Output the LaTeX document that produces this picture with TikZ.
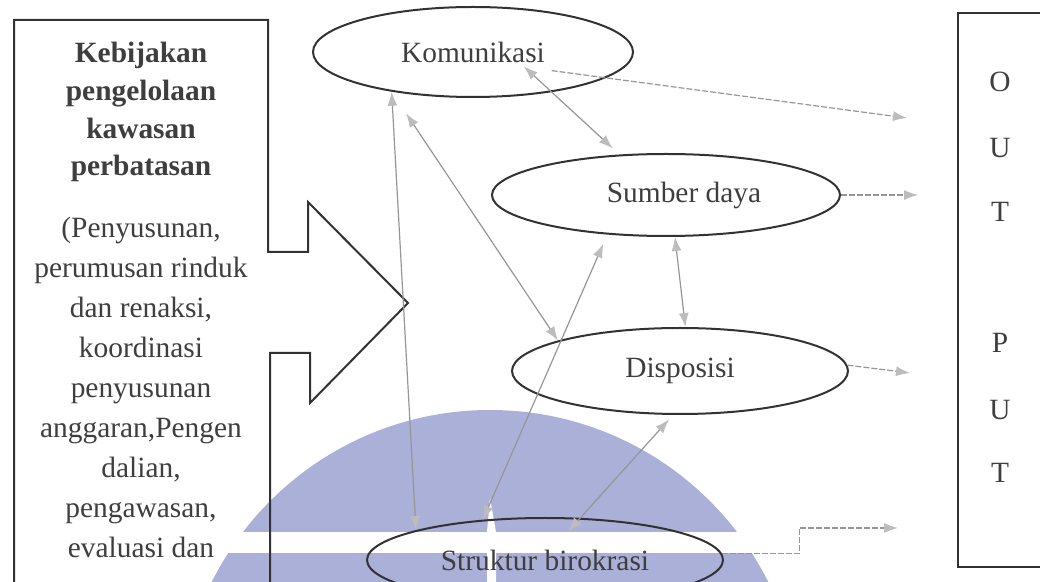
\documentclass[tikz,border=0pt]{standalone}
\usepackage{fontspec}
\setmainfont{Liberation Serif}
\usetikzlibrary{shapes.geometric,arrows.meta}

\definecolor{inkline}{RGB}{50,50,50}
\definecolor{inktext}{RGB}{62,62,62}
\definecolor{linkgray}{RGB}{150,150,150}
\definecolor{tipgray}{RGB}{188,188,188}
\definecolor{wmblue}{RGB}{170,176,216}

\tikzset{
  frame/.style={draw=inkline, line width=1pt, line join=miter},
  factor/.style={ellipse, draw=inkline, line width=1pt, inner sep=0pt,
    text=inktext, font=\fontsize{14.7}{17}\selectfont},
  boxtext/.style={align=center, inner sep=0pt, text=inktext,
    font=\fontsize{14.7}{20}\selectfont},
  link/.style={draw=linkgray, line width=0.6pt, <->,
    >={Latex[length=7pt,width=5pt,color=tipgray]}},
  outlink/.style={draw=linkgray, line width=0.6pt, ->,
    dash pattern=on 3pt off 1pt,
    >={Latex[length=7pt,width=5pt,color=tipgray]}},
}

\begin{document}
\begin{tikzpicture}[x=0.5pt,y=0.5pt,yscale=-1,xscale=1]
\useasboundingbox (0,0) rectangle (1040,582);
\clip (0,0) rectangle (1040,582);

%Watermark
\fill[wmblue] (490,721) circle (311);
\fill[white] (0,532) rectangle (1040,553);
\fill[white] (490,498) -- (496,532) -- (496,582) -- (487,582) -- (487,532) -- cycle;

%Shape: Block arrow (input)
\draw[frame] (14,590) -- (14,20) -- (268,20) -- (268,252) -- (308,252) -- (308,202) -- (408,303) -- (310,403) -- (310,353) -- (270,353) -- (270,590);
\node[boxtext, anchor=north] (policy) at (141,42) {\textbf{Kebijakan}\\[-1.2pt]\textbf{pengelolaan}\\[-1.2pt]\textbf{kawasan}\\[-1.2pt]\textbf{perbatasan}\\[11pt](Penyusunan,\\perumusan rinduk\\dan renaksi,\\koordinasi\\penyusunan\\anggaran,Pengen\\dalian,\\pengawasan,\\evaluasi dan};

%Shape: Ellipses
\node[factor, minimum width=160pt, minimum height=45pt] (kom) at (473,52) {Komunikasi};
\node[factor, minimum width=174pt, minimum height=41pt] (sd) at (666,195) {\hspace*{18pt}Sumber daya};
\node[factor, minimum width=168pt, minimum height=43pt] (dis) at (680,371) {Disposisi};
\node[factor, minimum width=178pt, minimum height=42pt] (str) at (545,560) {Struktur birokrasi};

%Shape: Rectangle (output)
\draw[frame] (958,13) rectangle (1100,567);
\foreach \ch/\y [count=\i] in {O/82,U/148,T/212,P/343,U/410,T/473}
  \node[boxtext] (out\i) at (1000,\y) {\ch};

%Straight Lines (between factors)
\draw[link] (kom.206) -- (str.167);
\draw[link, shorten >=13pt] (dis.166) -- (kom.206);
\draw[link, shorten >=5pt] (str.147) -- (sd.214);
\draw[link, shorten <=-19pt, shorten >=4.5pt] (kom.-27) -- (sd.139);
\draw[link] (sd.-78) -- (dis.83);
\draw[link, shorten <=3pt, shorten >=-9pt] (dis.-99) -- (str.50);

%Straight Lines (to output)
\coordinate (endkom) at (907,118);
\coordinate (endsd) at (918,195);
\coordinate (enddis) at (910,373);
\coordinate (endstr) at (898,528);
\draw[outlink, shorten <=-27.5pt] (kom.-11) -- (endkom);
\draw[outlink] (sd.east) -- (endsd);
\draw[outlink] (dis.2) -- (enddis);
\draw[outlink] (str.2) -- ++(77,0) |- (endstr);

\end{tikzpicture}
\end{document}
